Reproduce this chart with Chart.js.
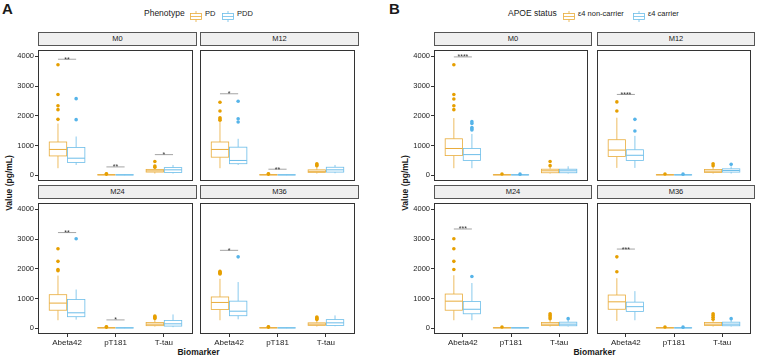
<!DOCTYPE html>
<html>
<head>
<meta charset="utf-8">
<script src="https://cdn.jsdelivr.net/npm/chart.js@4.4.1/dist/chart.umd.min.js"></script>
<style>
  body { margin: 0; background: #fff; }
  #fig { position: relative; width: 757px; height: 357px; overflow: hidden; background: #fff;
         font-family: "Liberation Sans", Arial, sans-serif; color: #1a1a1a; }
  #fig > * { position: absolute; }
  .strip { box-sizing: border-box; background: #efefef; border: 1px solid #555; color: #1a1a1a;
           font-size: 7.5px; text-align: center; line-height: 12px; }
  .letter { font-weight: bold; font-size: 15px; line-height: 15px; }
  .ytitle { font-weight: bold; font-size: 8.5px; white-space: nowrap; transform: translate(-50%, -50%) rotate(-90deg); }
  .xtitle { font-weight: bold; font-size: 8.5px; white-space: nowrap; transform: translate(-50%, -50%); }
  .leg { font-size: 8.5px; line-height: 10px; white-space: nowrap; }
  .legl { font-size: 7.5px; line-height: 10px; white-space: nowrap; }
</style>
</head>
<body>
<div id="fig"></div>
<script>
const facets = ['M0', 'M12', 'M24', 'M36'];
const biomarkers = ['Abeta42', 'pT181', 'T-tau'];
const yTicks = [0, 1000, 2000, 3000, 4000];
const phenoLabels = ['PD', 'PDD'];
const apoeLabels = ['ε4 non-carrier', 'ε4 carrier'];
const colors = ['#E69F00', '#56B4E9'];
const lineColors = ['#E9AC3A', '#6CBDE9'];

// box stats per facet (M0..M36), per biomarker: [low whisker, q1, median, q3, high whisker]
const pdBox = [
  [[240, 652, 870, 1120, 1740], [5, 12, 18, 24, 35], [60, 110, 150, 200, 300]],
  [[240, 610, 870, 1120, 1790], [5, 12, 18, 24, 35], [60, 100, 135, 185, 290]],
  [[272, 609, 848, 1130, 1772], [5, 12, 18, 24, 35], [60, 90, 141, 196, 300]],
  [[272, 630, 870, 1054, 1663], [5, 12, 18, 24, 35], [60, 100, 141, 185, 270]]
];
const pdOut = [
  [[3717, 2717, 2337, 2207, 1880], [42, 50], [467, 315, 270]],
  [[2457, 2163, 1935, 1891, 1848], [42, 50], [390, 350, 326]],
  [[2674, 2250, 1978, 1935], [42, 50], [413, 380, 359, 330]],
  [[1913, 1880, 1850, 1826], [42, 50], [380, 350, 326, 300]]
];
const pddBox = [
  [[348, 435, 576, 935, 1304], [6, 12, 16, 20, 28], [60, 98, 185, 260, 348]],
  [[348, 391, 500, 946, 1228], [6, 12, 16, 20, 28], [70, 109, 185, 272, 348]],
  [[293, 391, 522, 967, 1304], [6, 12, 16, 20, 28], [40, 76, 152, 261, 467]],
  [[304, 424, 576, 913, 1554], [6, 12, 16, 20, 28], [70, 98, 185, 293, 435]]
];
const pddOut = [
  [[2576, 1870], [], []],
  [[2490, 1900, 1790], [], []],
  [[3011], [], []],
  [[2402], [], []]
];
const ncBox = [
  [[240, 663, 902, 1228, 1924], [5, 12, 18, 24, 35], [60, 87, 152, 206, 300]],
  [[250, 630, 848, 1196, 1935], [5, 12, 18, 24, 35], [60, 98, 141, 196, 300]],
  [[272, 609, 913, 1152, 1783], [5, 12, 18, 24, 35], [60, 98, 141, 196, 300]],
  [[250, 641, 891, 1119, 1685], [5, 12, 18, 24, 35], [60, 98, 141, 196, 290]]
];
const ncOut = [
  [[3717, 2717, 2565, 2337, 2207], [45], [467, 326]],
  [[2467, 2163], [45], [391, 326]],
  [[3011, 2674, 2250, 1978], [45], [489, 435, 380, 326]],
  [[2402, 1902], [45], [489, 435, 370, 304]]
];
const cBox = [
  [[240, 500, 696, 902, 1391], [5, 12, 16, 22, 32], [60, 87, 152, 206, 304]],
  [[250, 500, 674, 859, 1326], [5, 12, 16, 22, 32], [60, 109, 163, 218, 300]],
  [[272, 489, 641, 902, 1522], [5, 12, 16, 22, 32], [60, 87, 141, 207, 300]],
  [[272, 565, 728, 880, 1250], [5, 12, 16, 22, 32], [60, 87, 141, 207, 290]]
];
const cOut = [
  [[1804, 1739, 1609, 1565, 1522], [40], []],
  [[1880, 1489], [40], [370]],
  [[1739], [], [326]],
  [[], [40], [326]]
];
// significance brackets: [biomarker index, y value, label]
const phenoSig = [
  [[0, 3900, '**'], [1, 283, '**'], [2, 696, '*']],
  [[0, 2740, '*'], [1, 206, '**']],
  [[0, 3217, '**'], [1, 283, '*']],
  [[0, 2620, '*']]
];
const apoeSig = [
  [[0, 3978, '****']],
  [[0, 2717, '****']],
  [[0, 3337, '***']],
  [[0, 2663, '***']]
];

const FONT = '"Liberation Sans", Arial, sans-serif';
const AX = 34, XB = 16, H = 135, STRIP = 14;
const rows = [46, 199];
const offsets = [-0.1875, 0.1875];
const boxHalf = 0.18;
const fig = document.getElementById('fig');

const panels = [
  { letter: 'A', lx: 2, cols: [38, 200], w: 159, boxes: [pdBox, pddBox], outs: [pdOut, pddOut], sig: phenoSig,
    title: 'Phenotype', labels: phenoLabels, legX: [144, 190, 205, 222, 237], ytx: 9 },
  { letter: 'B', lx: 389, cols: [434, 597], w: 158, boxes: [ncBox, cBox], outs: [ncOut, cOut], sig: apoeSig,
    title: 'APOE status', labels: apoeLabels, legX: [508, 563, 578, 633, 648], ytx: 405 }
];

function el(cls, text, css) {
  const d = document.createElement('div');
  d.className = cls;
  if (text) d.textContent = text;
  Object.assign(d.style, css);
  fig.appendChild(d);
  return d;
}

function keyGlyph(x, color) {
  const d = el('', '', { left: x + 'px', top: '8px', width: '12px', height: '11px' });
  d.innerHTML = `<svg width="12" height="11"><line x1="6" y1="0" x2="6" y2="11" stroke="${color}" stroke-width="0.8"/>` +
    `<rect x="0.5" y="2.5" width="11" height="6" fill="#fff" stroke="${color}" stroke-width="0.8"/>` +
    `<line x1="0.5" y1="5.5" x2="11.5" y2="5.5" stroke="${color}" stroke-width="0.8"/></svg>`;
}

function makeFacet(panel, fi) {
  const row = fi >> 1, col = fi & 1;
  const left = panel.cols[col], top = rows[row], W = panel.w;
  const showY = col === 0, showX = row === 1;

  el('strip', facets[fi], { left: left + 'px', top: (top - STRIP) + 'px', width: W + 'px', height: STRIP + 'px' });

  const canvas = document.createElement('canvas');
  canvas.width = W + AX;
  canvas.height = H + XB;
  Object.assign(canvas.style, { left: (left - AX) + 'px', top: top + 'px', width: (W + AX) + 'px', height: (H + XB) + 'px' });
  fig.appendChild(canvas);

  const stats = panel.boxes.map(b => b[fi]);
  const sig = panel.sig[fi];

  const facetPlugin = {
    id: 'facet' + fi,
    beforeDatasetsDraw(chart) {
      const { ctx, scales: { x, y } } = chart;
      stats.forEach((groupStats, g) => {
        groupStats.forEach((s, c) => {
          const cx = c + 1 + offsets[g];
          const l = x.getPixelForValue(cx - boxHalf), r = x.getPixelForValue(cx + boxHalf), m = x.getPixelForValue(cx);
          const [lo, q1, md, q3, hi] = s.map(v => y.getPixelForValue(v));
          ctx.save();
          ctx.strokeStyle = lineColors[g];
          ctx.lineWidth = 0.8;
          ctx.beginPath();
          ctx.moveTo(m, lo); ctx.lineTo(m, q1);
          ctx.moveTo(m, q3); ctx.lineTo(m, hi);
          ctx.stroke();
          ctx.fillStyle = '#fff';
          ctx.fillRect(l, q3, r - l, q1 - q3);
          ctx.strokeRect(l, q3, r - l, Math.max(q1 - q3, 0.1));
          ctx.lineWidth = 1;
          ctx.beginPath();
          ctx.moveTo(l, md); ctx.lineTo(r, md);
          ctx.stroke();
          ctx.restore();
        });
      });
    },
    afterDatasetsDraw(chart) {
      const { ctx, chartArea: a, scales: { x, y } } = chart;
      ctx.save();
      sig.forEach(([c, v, label]) => {
        const py = y.getPixelForValue(v);
        ctx.strokeStyle = '#666';
        ctx.lineWidth = 0.6;
        ctx.beginPath();
        ctx.moveTo(x.getPixelForValue(c + 1 + offsets[0]), py);
        ctx.lineTo(x.getPixelForValue(c + 1 + offsets[1]), py);
        ctx.stroke();
        ctx.fillStyle = '#333';
        ctx.font = '7px ' + FONT;
        ctx.textAlign = 'center';
        ctx.textBaseline = 'alphabetic';
        ctx.fillText(label, x.getPixelForValue(c + 1), py + 2.5);
      });
      ctx.strokeStyle = '#333';
      ctx.lineWidth = 1;
      ctx.strokeRect(a.left + 0.5, a.top + 0.5, a.right - a.left - 1, a.bottom - a.top - 1);
      ctx.restore();
    }
  };

  new Chart(canvas, {
    type: 'scatter',
    data: {
      datasets: [0, 1].map(g => ({
        label: panel.labels[g],
        data: panel.outs[g][fi].flatMap((vals, c) => vals.map(v => ({ x: c + 1 + offsets[g], y: v }))),
        backgroundColor: colors[g],
        borderWidth: 0,
        pointRadius: 1.8
      }))
    },
    options: {
      responsive: false,
      animation: false,
      layout: { padding: 0 },
      plugins: { legend: { display: false }, tooltip: { enabled: false } },
      scales: {
        x: {
          type: 'linear', min: 0.4, max: 3.6,
          afterBuildTicks: s => { s.ticks = [1, 2, 3].map(v => ({ value: v })); },
          ticks: { display: showX, maxRotation: 0, autoSkip: false, padding: 1, color: '#222',
                   font: { size: 8, family: FONT }, callback: v => biomarkers[v - 1] },
          grid: { display: showX, drawOnChartArea: false, tickLength: 3, tickColor: '#333' },
          border: { display: false },
          afterFit: s => { s.height = XB; s.paddingLeft = 0; s.paddingRight = 0; }
        },
        y: {
          type: 'linear', min: -190, max: 4210,
          afterBuildTicks: s => { s.ticks = yTicks.map(v => ({ value: v })); },
          ticks: { display: showY, padding: 1, color: '#222', font: { size: 7.5, family: FONT },
                   callback: v => String(v) },
          grid: { display: showY, drawOnChartArea: false, tickLength: 3, tickColor: '#333' },
          border: { display: false },
          afterFit: s => { s.width = AX; s.paddingTop = 0; s.paddingBottom = 0; }
        }
      }
    },
    plugins: [facetPlugin]
  });
}

panels.forEach(panel => {
  el('letter', panel.letter, { left: panel.lx + 'px', top: '1px' });
  const [tx, k1, t1, k2, t2] = panel.legX;
  el('leg', panel.title, { left: tx + 'px', top: '8px' });
  keyGlyph(k1, lineColors[0]);
  el('legl', panel.labels[0], { left: t1 + 'px', top: '8.5px' });
  keyGlyph(k2, lineColors[1]);
  el('legl', panel.labels[1], { left: t2 + 'px', top: '8.5px' });
  el('ytitle', 'Value (pg/mL)', { left: panel.ytx + 'px', top: '183px' });
  const mid = (panel.cols[0] + panel.cols[1] + panel.w) / 2;
  el('xtitle', 'Biomarker', { left: mid + 'px', top: '352px' });
  facets.forEach((f, fi) => makeFacet(panel, fi));
});
</script>
</body>
</html>
